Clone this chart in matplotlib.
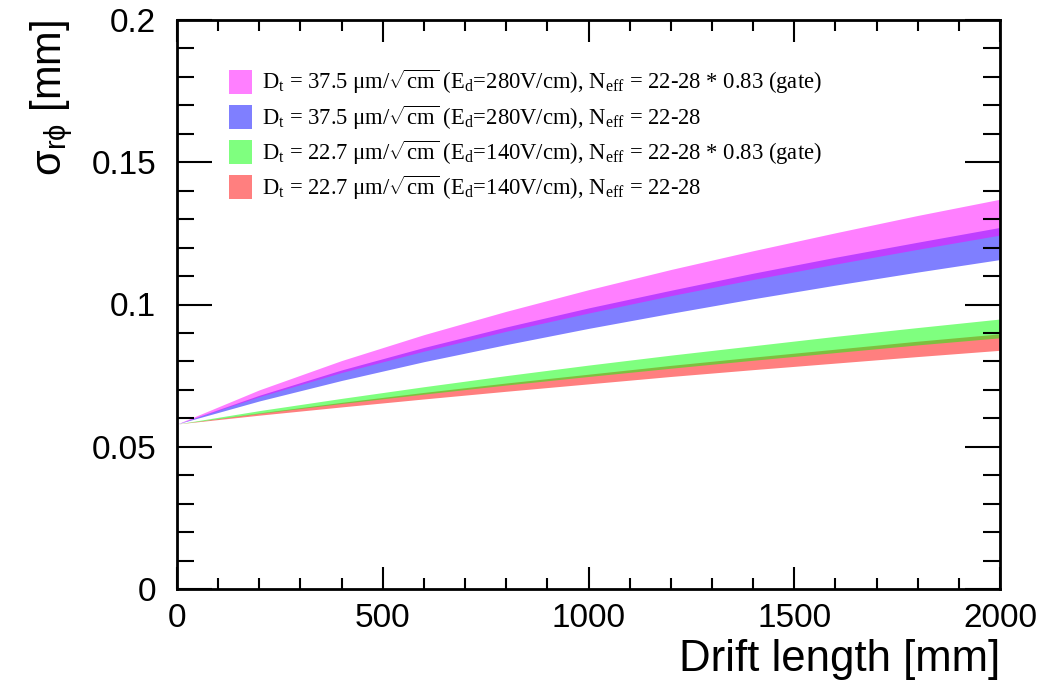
import matplotlib
matplotlib.use("Agg")
import matplotlib.pyplot as plt
from matplotlib.ticker import MultipleLocator

# Drift length sample points [mm]
drift = [0, 200, 400, 600, 800, 1000, 1200, 1400, 1600, 1800, 2000]

# Band bounds [mm]
mag_hi = [0.0580, 0.0700, 0.0803, 0.0894, 0.0976, 0.1052, 0.1123, 0.1189, 0.1252, 0.1313, 0.1370]
mag_lo = [0.0580, 0.0676, 0.0761, 0.0836, 0.0906, 0.0970, 0.1031, 0.1088, 0.1142, 0.1194, 0.1244]
blu_hi = [0.0580, 0.0681, 0.0770, 0.0849, 0.0921, 0.0988, 0.1050, 0.1110, 0.1166, 0.1219, 0.1271]
blu_lo = [0.0580, 0.0661, 0.0733, 0.0799, 0.0859, 0.0916, 0.0969, 0.1020, 0.1068, 0.1114, 0.1158]
grn_hi = [0.0580, 0.0627, 0.0670, 0.0711, 0.0750, 0.0787, 0.0822, 0.0855, 0.0888, 0.0919, 0.0949]
grn_lo = [0.0580, 0.0617, 0.0652, 0.0685, 0.0717, 0.0747, 0.0776, 0.0804, 0.0831, 0.0858, 0.0883]
red_hi = [0.0580, 0.0619, 0.0656, 0.0691, 0.0724, 0.0755, 0.0786, 0.0815, 0.0843, 0.0871, 0.0897]
red_lo = [0.0580, 0.0611, 0.0640, 0.0668, 0.0695, 0.0721, 0.0747, 0.0771, 0.0794, 0.0817, 0.0839]

labels = [
    r"D$_\mathrm{t}$ = 37.5 μm/$\sqrt{\mathrm{cm}}$ (E$_\mathrm{d}$=280V/cm), N$_\mathrm{eff}$ = 22-28 * 0.83 (gate)",
    r"D$_\mathrm{t}$ = 37.5 μm/$\sqrt{\mathrm{cm}}$ (E$_\mathrm{d}$=280V/cm), N$_\mathrm{eff}$ = 22-28",
    r"D$_\mathrm{t}$ = 22.7 μm/$\sqrt{\mathrm{cm}}$ (E$_\mathrm{d}$=140V/cm), N$_\mathrm{eff}$ = 22-28 * 0.83 (gate)",
    r"D$_\mathrm{t}$ = 22.7 μm/$\sqrt{\mathrm{cm}}$ (E$_\mathrm{d}$=140V/cm), N$_\mathrm{eff}$ = 22-28",
]

plt.rcParams['mathtext.fontset'] = 'custom'
plt.rcParams['mathtext.rm'] = 'Liberation Serif'
plt.rcParams['mathtext.it'] = 'Liberation Serif:italic'
plt.rcParams['mathtext.bf'] = 'Liberation Serif:bold'
plt.rcParams['mathtext.sf'] = 'Liberation Sans'
plt.rcParams['font.family'] = ['Liberation Sans', 'DejaVu Sans']

fig = plt.figure(figsize=(10.57, 6.97), dpi=100)
ax = fig.add_axes([177/1057, 108/697, 823/1057, 569/697])

red = ax.fill_between(drift, red_lo, red_hi, color=(1, 0, 0), alpha=0.5, lw=0)
grn = ax.fill_between(drift, grn_lo, grn_hi, color=(0, 1, 0), alpha=0.5, lw=0)
blu = ax.fill_between(drift, blu_lo, blu_hi, color=(0, 0, 1), alpha=0.5, lw=0)
mag = ax.fill_between(drift, mag_lo, mag_hi, color=(1, 0, 1), alpha=0.5, lw=0)

ax.set_xlim(0, 2000)
ax.set_ylim(0, 0.2)
ax.xaxis.set_minor_locator(MultipleLocator(100))
ax.yaxis.set_minor_locator(MultipleLocator(0.01))
ax.set_xticks([0, 500, 1000, 1500, 2000])
ax.set_xticklabels(["0", "500", "1000", "1500", "2000"])
ax.set_yticks([0, 0.05, 0.1, 0.15, 0.2])
ax.set_yticklabels(["0", "0.05", "0.1", "0.15", "0.2"])

for s in ax.spines.values():
    s.set_linewidth(2)
ax.tick_params(axis='both', which='both', direction='in', top=True, right=True, width=1.5, labelsize=24)
ax.tick_params(axis='x', which='major', length=16, pad=10)
ax.tick_params(axis='x', which='minor', length=8)
ax.tick_params(axis='y', which='major', length=25, pad=15)
ax.tick_params(axis='y', which='minor', length=12)

ax.set_xlabel("Drift length [mm]", fontsize=31.5, loc='right', labelpad=4)
ax.set_ylabel(r"σ$_{\mathsf{r}\mathsf{ϕ}}$ [mm]", fontsize=30, loc='top', labelpad=12)

leg = ax.legend([mag, blu, grn, red], labels, loc='upper left',
                bbox_to_anchor=(52/823, 1 - 48/569), frameon=False,
                prop={'family': 'Liberation Serif', 'size': 16.3},
                handlelength=1.0, handleheight=1.24, handletextpad=0.44,
                labelspacing=0.3, borderaxespad=0, borderpad=0)

fig.savefig("out.png", dpi=100)
